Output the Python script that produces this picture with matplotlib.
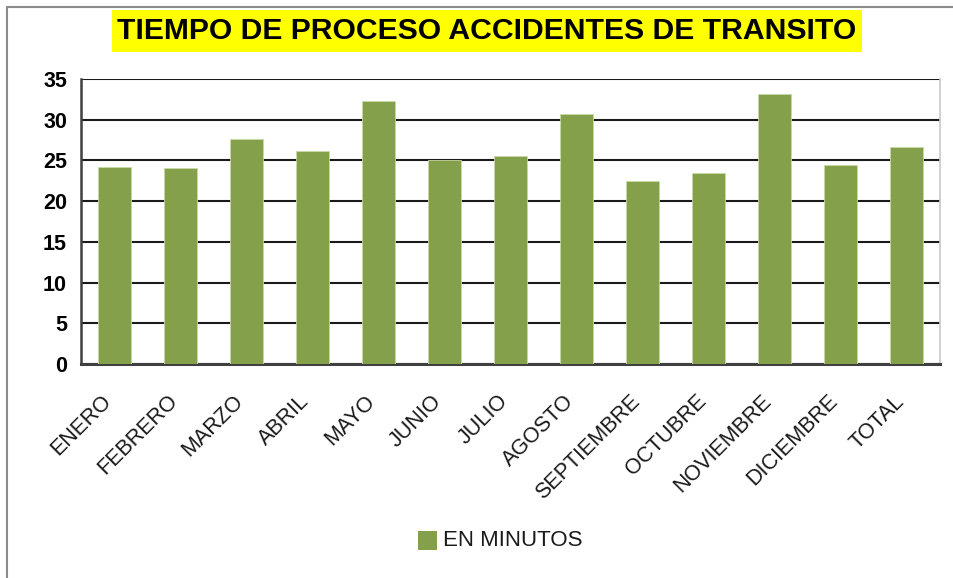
import matplotlib
matplotlib.use("Agg")
import matplotlib.pyplot as plt
from matplotlib.patches import Rectangle
from matplotlib.transforms import ScaledTranslation

W, H = 954, 578
DPI = 100

categories = ["ENERO", "FEBRERO", "MARZO", "ABRIL", "MAYO", "JUNIO", "JULIO",
              "AGOSTO", "SEPTIEMBRE", "OCTUBRE", "NOVIEMBRE", "DICIEMBRE", "TOTAL"]
minutes = [24.2, 24.1, 27.6, 26.2, 32.3, 25.1, 25.5, 30.7, 22.5, 23.5, 33.1, 24.5, 26.6]
y_ticks = [0, 5, 10, 15, 20, 25, 30, 35]
title = "TIEMPO DE PROCESO ACCIDENTES DE TRANSITO"
series_name = "EN MINUTOS"

bar_color = "#85A04B"
font = ["Liberation Sans", "DejaVu Sans"]

fig = plt.figure(figsize=(W / DPI, H / DPI), dpi=DPI)


def fx(px):
    return px / W


def fy(py):
    return 1 - py / H


# chart-area frame (left and top edges visible)
fig.patches.append(Rectangle((fx(7), fy(600)), fx(1000), fy(7) - fy(600),
                             transform=fig.transFigure, fill=False,
                             edgecolor="#8c8c8c", linewidth=1.5))

ax = fig.add_axes([fx(81), fy(364), fx(940) - fx(81), fy(79) - fy(364)])
x = list(range(len(categories)))
ax.bar(x, minutes, width=0.5, color=bar_color, edgecolor="#c9d9a6",
       linewidth=0.6, zorder=3)
ax.set_xlim(-0.5, len(categories) - 0.5)
ax.set_ylim(0, 35)
ax.set_yticks(y_ticks)
ax.set_yticklabels([str(v) for v in y_ticks], fontsize=15.5, fontweight="bold",
                   family=font)
ax.yaxis.grid(True, color="#1a1a1a", linewidth=1.5, zorder=0)
ax.set_axisbelow(True)
ax.tick_params(axis="y", length=0, pad=10)
ax.tick_params(axis="x", length=0, pad=6)
ax.set_xticks(x)
ax.set_xticklabels(categories, rotation=45, ha="right", va="center",
                   rotation_mode="anchor", fontsize=15.5, family=font,
                   color="#1a1a1a")
for lbl in ax.get_xticklabels():
    lbl.set_transform(lbl.get_transform() +
                      ScaledTranslation(-0.06, -0.26, fig.dpi_scale_trans))
ax.spines["left"].set_color("#404040")
ax.spines["left"].set_linewidth(1.8)
ax.spines["bottom"].set_color("#404040")
ax.spines["bottom"].set_linewidth(2.2)
ax.spines["top"].set_visible(False)
ax.spines["right"].set_color("#c8c8c8")
ax.spines["right"].set_linewidth(1.2)

# title on a yellow band
fig.patches.append(Rectangle((fx(112), fy(52)), fx(862) - fx(112), fy(10) - fy(52),
                             transform=fig.transFigure, facecolor="#FFFF00",
                             edgecolor="none"))
t = fig.text(fx(487), fy(31), title, ha="center", va="center", fontsize=22,
             fontweight="bold", family=font, color="black")
fig.canvas.draw()
w = t.get_window_extent().width
t.set_fontsize(22 * 738 / w)

# legend
fig.patches.append(Rectangle((fx(418), fy(550)), fx(19), fy(531) - fy(550),
                             transform=fig.transFigure, facecolor=bar_color,
                             edgecolor="none"))
lt = fig.text(fx(443), fy(541), series_name, ha="left", va="center",
              fontsize=15, family=font, color="#1a1a1a")
fig.canvas.draw()
lw = lt.get_window_extent().width
lt.set_fontsize(15 * 140 / lw)

fig.savefig("out.png", dpi=DPI)
